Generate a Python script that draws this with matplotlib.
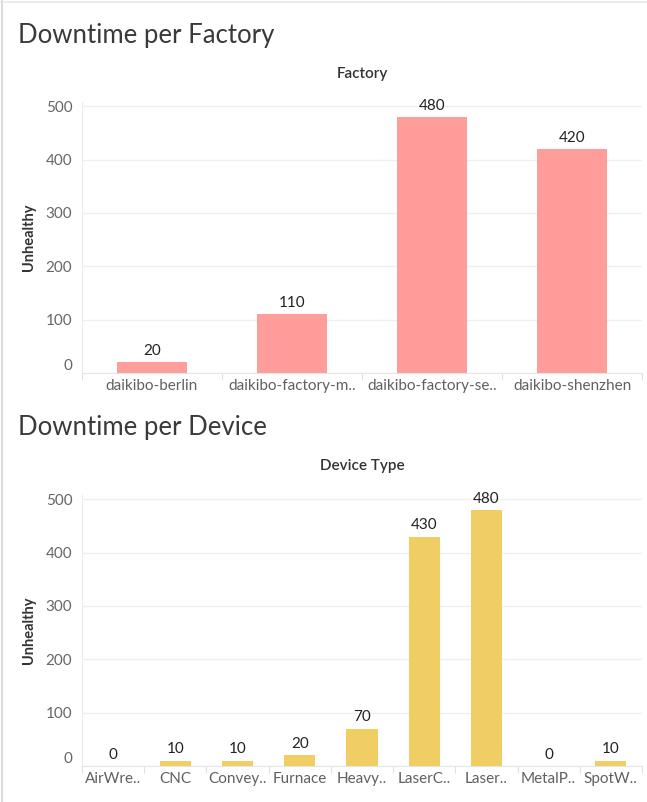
import matplotlib.pyplot as plt
import numpy as np

# data
factories = ['daikibo-berlin', 'daikibo-factory-m..', 'daikibo-factory-se..', 'daikibo-shenzhen']
factory_unhealthy = [20, 110, 480, 420]

devices = ['AirWre..', 'CNC', 'Convey..', 'Furnace', 'Heavy..', 'LaserC..', 'Laser..', 'MetalP..', 'SpotW..']
device_unhealthy = [0, 10, 10, 20, 70, 430, 480, 0, 10]

yticks = [0, 100, 200, 300, 400, 500]

plt.rcParams['font.family'] = ['Lato', 'DejaVu Sans']

fig = plt.figure(figsize=(6.47, 8.02), dpi=100)

# faint dashboard borders
fig.add_artist(plt.Line2D([0.003, 0.003], [0, 1], color='#d4d4d4', lw=1.2))
fig.add_artist(plt.Line2D([0, 1], [0.998, 0.998], color='#e6e6e6', lw=1.2))


def draw_panel(ax, cats, vals, color, title, header, title_y, header_y):
    x = np.arange(len(cats))
    ax.bar(x, vals, width=0.5, color=color, zorder=3)
    for xi, v in zip(x, vals):
        ax.annotate(str(v), (xi, v), xytext=(0, 3), textcoords='offset points',
                    ha='center', va='bottom', fontsize=11, color='#222222')
    ax.set_xlim(-0.5, len(cats) - 0.5)
    ax.set_ylim(0, 508)
    ax.set_yticks(yticks)
    ax.set_yticklabels([str(t) for t in yticks])
    ax.grid(axis='y', color='#efefef', lw=0.9, zorder=0)
    ax.set_xticks(x)
    ax.set_xticklabels(cats)
    ax.set_xticks(np.arange(len(cats) + 1) - 0.5, minor=True)
    ax.tick_params(axis='x', which='major', length=0, pad=4, labelsize=11, colors='#606060')
    ax.tick_params(axis='x', which='minor', length=5, color='#e0e0e0', width=0.8)
    ax.tick_params(axis='y', length=0, pad=7, labelsize=11, colors='#666666')
    # Tableau lifts the bottom label a bit
    lab0 = ax.get_yticklabels()[0]
    lab0.set_va('bottom')
    for s in ['top', 'right']:
        ax.spines[s].set_visible(False)
    ax.spines['left'].set_color('#ececec')
    ax.spines['bottom'].set_color('#e6e6e6')
    ax.set_ylabel('Unhealthy', fontsize=10.5, fontweight='bold', color='#333333', labelpad=7)
    fig.text(18 / 647, 1 - title_y / 802, title, fontsize=18.5,
             color='#3a3a3a', ha='left', va='center')
    fig.text((82 + 642) / 2 / 647, 1 - header_y / 802, header, fontsize=11,
             fontweight='semibold', color='#333333', ha='center', va='center')


ax1 = fig.add_axes([82 / 647, 1 - 373 / 802, 560 / 647, 271 / 802])
draw_panel(ax1, factories, factory_unhealthy, '#FF9D9A',
           'Downtime per Factory', 'Factory', 36, 74)

ax2 = fig.add_axes([82 / 647, 1 - 766 / 802, 560 / 647, 271 / 802])
draw_panel(ax2, devices, device_unhealthy, '#F1CE63',
           'Downtime per Device', 'Device Type', 428, 466)

fig.savefig('out.png', dpi=100)
